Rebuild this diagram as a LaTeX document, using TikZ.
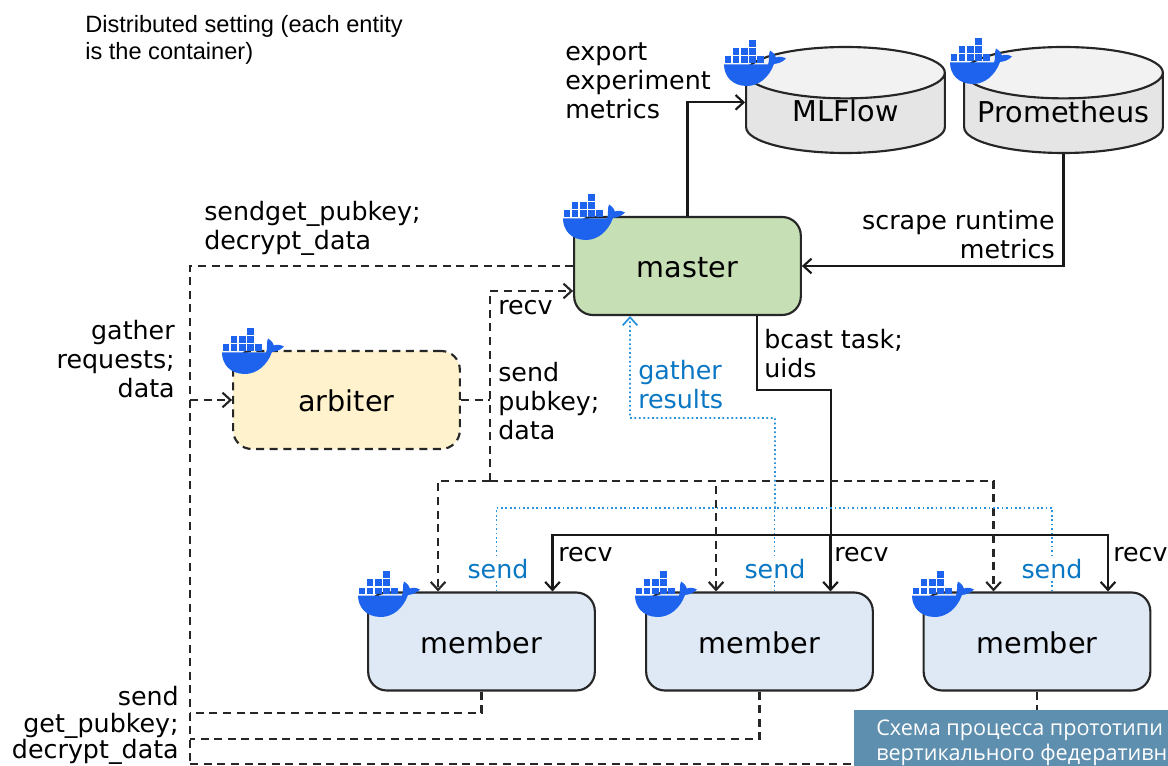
\documentclass[tikz,border=0pt]{standalone}
\usepackage{fontspec}
\setmainfont{DejaVu Sans}
\newfontfamily\notefont{Liberation Sans}
\newfontfamily\capfont{Open Sans}
\usetikzlibrary{arrows.meta,shapes.geometric}
\definecolor{dockerblue}{HTML}{1D63ED}
\definecolor{labelblue}{HTML}{0A77C4}
\definecolor{dotblue}{HTML}{2A93DE}
\definecolor{masterfill}{HTML}{C6DFB4}
\definecolor{arbiterfill}{HTML}{FFF2CC}
\definecolor{memberfill}{HTML}{DEE9F5}
\definecolor{capfill}{HTML}{5F8FAF}
\tikzset{
    >={Straight Barb[length=6pt,width=11pt]},
    solidline/.style={line width=1.6pt,black!90},
    dashline/.style={line width=1.6pt,black!85,dash pattern=on 6pt off 4.2pt},
    dotline/.style={line width=1.3pt,dotblue,dotted},
    box/.style={draw=black!85,line width=1.6pt,rounded corners=14pt,minimum width=170pt,minimum height=73.5pt,inner sep=0pt,text height=17.8pt,text depth=0pt,font=\fontsize{21.5}{24}\selectfont},
    store/.style={draw=black!85,line width=1.6pt,shape=cylinder,shape border rotate=90,aspect=0.3,cylinder uses custom fill,cylinder body fill=black!10,cylinder end fill=black!5,minimum width=149pt,minimum height=79.5pt,inner sep=0pt,anchor=shape center,font=\fontsize{21.5}{24}\selectfont},
    storelbl/.style={inner sep=0pt,font=\fontsize{21.5}{24}\selectfont},
    lbl/.style={inner sep=0pt,font=\fontsize{19}{21.75}\selectfont},
    leftlbl/.style={lbl,anchor=west,align=left},
    rightlbl/.style={lbl,anchor=east,align=right},
    sendlbl/.style={lbl,text=labelblue,fill=white,inner ysep=1pt},
    whale/.pic={
        \foreach \i in {0,...,4} \fill[dockerblue] (0.5+8.2*\i,16.5) rectangle ++(6.6,6.6);
        \foreach \i in {1,2,3} \fill[dockerblue] (0.5+8.2*\i,8.2) rectangle ++(6.6,6.6);
        \fill[dockerblue] (25.1,0) rectangle ++(6.6,6.6);
        \fill[dockerblue] (0,24.5) -- (44,24.5) .. controls (46,20) and (44,15) .. (46,10.5) .. controls (50,13) and (51,15) .. (52,17.5) .. controls (55,16) and (59,17) .. (62,18.5) .. controls (58,23) and (53,23.5) .. (50,24) .. controls (45,38) and (34,46) .. (23,46) .. controls (8,46) and (0,36) .. cycle;
    }
}
\begin{document}
\begin{tikzpicture}[x=0.75pt,y=-0.75pt]
    \useasboundingbox[fill=white] (0,0) rectangle (1168,766);

    \node[box,fill=masterfill] (master) at (687.5,266) {master};
    \node[box,fill=arbiterfill,dash pattern=on 6pt off 4.2pt] (arbiter) at (346.5,400) {arbiter};
    \foreach \n/\x in {1/481.5,2/759.5,3/1037}
        \node[box,fill=memberfill] (member\n) at (\x,641.5) {member};
    \node[store] (mlflow) at (845.5,100) {\phantom{Prometheus}};
    \node[store] (prometheus) at (1063.5,100) {\phantom{Prometheus}};
    \node[storelbl] (mlflowlbl) at (845.5,111) {MLFlow};
    \node[storelbl] (prometheuslbl) at (1063.5,112) {Prometheus};

    \coordinate (leftarb) at (190,400);
    \coordinate (leftbus1) at (190,713);
    \coordinate (leftbus2) at (190,739);
    \coordinate (leftbus3) at (190,764);
    \coordinate (arbturn) at (490,400);
    \coordinate (arbbus) at (490,481);
    \coordinate (sendbus) at (775,508);
    \coordinate (gatherturn) at (630,418);
    \coordinate (bcastturn) at (831,390);
    \coordinate (recvbus) at (831,535);

    \draw[solidline,->] (master.north) |- ([yshift=8.25pt]mlflow.west);
    \draw[solidline,->] (prometheus.south) |- (master.east);
    \draw[solidline] ([xshift=52.1pt]master.south) |- (bcastturn) -- (recvbus);
    \draw[dashline] (master.west) -| (leftbus3);
    \draw[dashline,->] (leftarb) -- (arbiter.west);
    \draw[dashline] (arbiter.east) -- (arbturn);
    \draw[dashline,->] (arbbus) |- ([yshift=-18.75pt]master.west);
    \draw[dotline,->] (sendbus) |- (gatherturn) -- ([xshift=-43.1pt]master.south);
    \foreach \n in {1,2,3} {
        \draw[solidline,->] (recvbus) -| ([xshift=53.25pt]member\n.north);
        \draw[dashline,->] (arbbus) -| ([xshift=-32.6pt]member\n.north);
        \draw[dotline] ([xshift=11.25pt]member\n.north) |- (sendbus);
        \draw[dashline] (member\n.south) |- (leftbus\n);
    }

    \pic at (563,194) {whale};
    \pic at (724,40) {whale};
    \pic at (950,38) {whale};
    \pic at (222,328) {whale};
    \pic at (358,571) {whale};
    \pic at (635,571) {whale};
    \pic at (912,571) {whale};

    \node[inner sep=0pt,anchor=north west,align=left,font=\notefont\fontsize{17.7}{20.25}\selectfont] (note) at (85,15) {Distributed setting (each entity\\is the container)};
    \node[leftlbl] (exportlbl) at (565,81) {export\\experiment\\metrics};
    \node[leftlbl] (pubkeylbl) at (204,228) {sendget\_pubkey;\\decrypt\_data};
    \node[rightlbl] (scrapelbl) at (1055,235) {scrape runtime\\metrics};
    \node[rightlbl] (gatherlbl) at (175,359) {gather\\requests;\\data};
    \node[leftlbl] (recvlbl) at (498,307.5) {recv};
    \node[leftlbl] (sendpubkeylbl) at (498,401) {send\\pubkey;\\data};
    \node[leftlbl] (bcastlbl) at (764,354) {bcast task;\\uids};
    \node[leftlbl,text=labelblue] (resultslbl) at (638,385) {gather\\results};
    \node[rightlbl,font=\fontsize{19}{19.9}\selectfont] (memberlbl) at (179,725.5) {send\\get\_pubkey;\\decrypt\_data};
    \foreach \n/\x in {1/558,2/834,3/1113}
        \node[leftlbl] (recv\n) at (\x,554.5) {recv};
    \foreach \n/\x in {1/498,2/775,3/1052}
        \node[sendlbl] (send\n) at (\x,569) {send};

    \node[fill=capfill,minimum width=235.5pt,minimum height=42pt,inner sep=0pt,anchor=north west] (capbox) at (854,710) {};
    \node[anchor=west,align=left,text=white,inner sep=0pt,font=\capfont\fontsize{16.2}{18.75}\selectfont] (captext) at (876,743) {Схема процесса прототипи\\вертикального федеративн};
\end{tikzpicture}
\end{document}
